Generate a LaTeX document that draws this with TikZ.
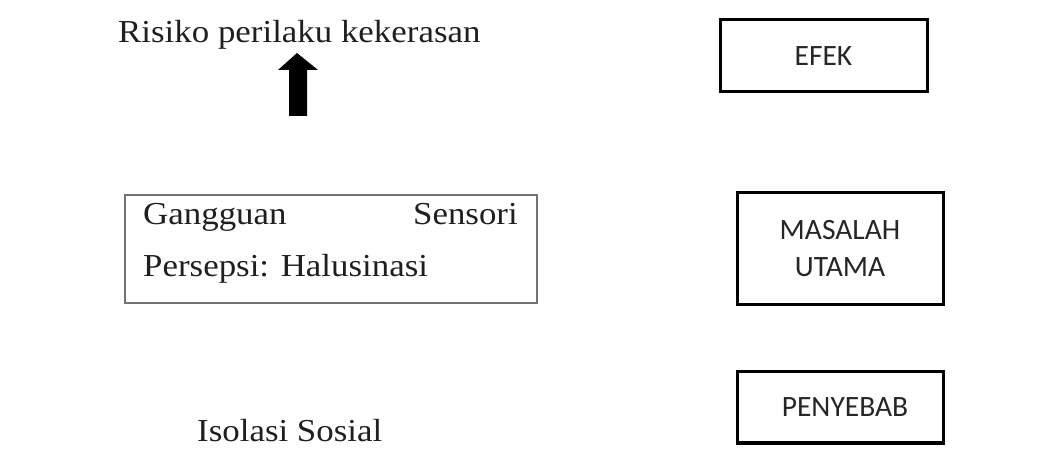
\documentclass[tikz,border=0pt]{standalone}
\usepackage{fontspec}
\setmainfont{Liberation Serif}
\newfontfamily\boxfont{Carlito}
\usepackage{graphicx}
\newcommand{\serifw}[1]{\scalebox{1.09}[1]{#1}}
\tikzset{
  serif/.style={font=\fontsize{32}{38}\selectfont, text=black!88, inner sep=0pt},
  thickbox/.style={draw=black, line width=3pt, font=\boxfont\fontsize{29.5}{37}\selectfont, text=black!85, align=center, inner sep=0pt},
  thinbox/.style={draw=black!55, line width=1.3pt},
}
\begin{document}
\begin{tikzpicture}[x=1pt,y=-1pt]
\useasboundingbox (0,0) rectangle (1053,470);
\fill[white] (0,0) rectangle (1053,470);
% left column
\node[serif, anchor=base west] (risiko) at (118,43) {\serifw{Risiko perilaku kekerasan}};
\fill[black] (297,53) -- (318,70) -- (307,70) -- (307,116) -- (289,116) -- (289,70) -- (278,70) -- cycle;
\draw[thinbox] (125,195) rectangle (537,303);
\node[serif, anchor=base west] (gang) at (143,225) {\serifw{Gangguan}};
\node[serif, anchor=base east] (sens) at (518,225) {\serifw{Sensori}};
\node[serif, anchor=base west] (pers) at (143,277) {\serifw{Persepsi: Halusinasi}};
\node[serif, anchor=base west] (iso) at (197,442) {\serifw{Isolasi Sosial}};
% right column
\node[thickbox, minimum width=207pt, minimum height=72pt] (efek) at (823.5,56) {EFEK};
\node[thickbox, minimum width=206pt, minimum height=112pt] (masalah) at (840,249) {MASALAH\\[0pt]UTAMA};
\node[thickbox, minimum width=206pt, minimum height=71pt] (penyebab) at (840,407.5) {\hspace*{10pt}PENYEBAB};
\end{tikzpicture}
\end{document}
